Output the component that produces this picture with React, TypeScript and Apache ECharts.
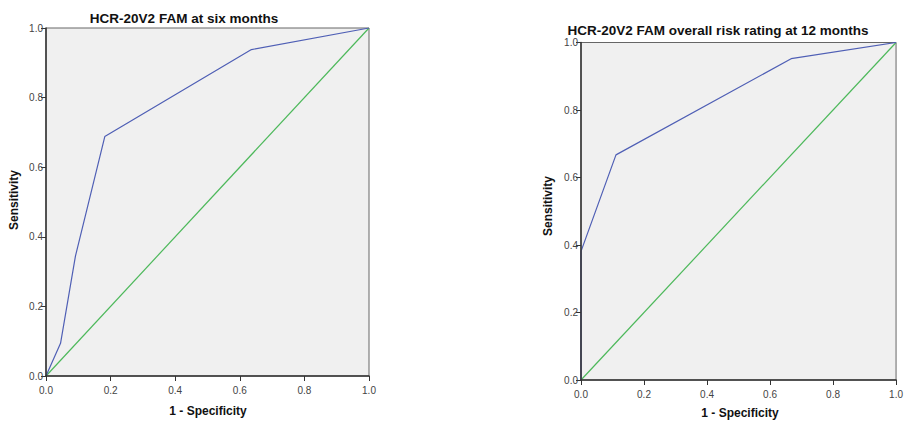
import React, { useEffect, useRef } from "react";
import * as echarts from "echarts";

const titles = ["HCR-20V2 FAM at six months", "HCR-20V2 FAM overall risk rating at 12 months"];
const xName = "1 - Specificity";
const yName = "Sensitivity";

const fpr6 = [0, 0.045, 0.091, 0.182, 0.636, 1];
const tpr6 = [0, 0.094, 0.344, 0.688, 0.938, 1];
const fpr12 = [0, 0, 0.111, 0.667, 1];
const tpr12 = [0, 0.381, 0.667, 0.952, 1];
const refX = [0, 1];
const refY = [0, 1];

const FONT = "'Liberation Sans', Arial, sans-serif";

const zip = (a: number[], b: number[]) => a.map((v, i) => [v, b[i]]);

export default function App() {
  const ref = useRef<HTMLDivElement>(null);
  useEffect(() => {
    if (!ref.current) return;
    const chart = echarts.init(ref.current, undefined, { renderer: "svg" });
    const grids = [
      { left: 46, top: 28, width: 323, height: 348 },
      { left: 581, top: 42.5, width: 318, height: 337.5 },
    ];
    const axisCommon = (type: "x" | "y") => ({
      type: "value" as const,
      min: 0,
      max: 1,
      interval: 0.2,
      z: 5,
      axisLine: { show: true, onZero: false, lineStyle: { color: "#333", width: 1.5 } },
      axisTick: { show: true, inside: false, length: 5, lineStyle: { color: "#333", width: 1 } },
      splitLine: { show: false },
      axisLabel: {
        fontSize: 10,
        lineHeight: 10,
        color: "#444",
        fontFamily: FONT,
        margin: type === "x" ? 9 : 3,
        formatter: (v: number) => v.toFixed(1),
        showMinLabel: true,
        showMaxLabel: true,
      },
    });
    chart.setOption({
      animation: false,
      backgroundColor: "#fff",
      grid: grids.map((g) => ({
        ...g,
        show: true,
        backgroundColor: "#f0f0f0",
        borderColor: "#666",
        borderWidth: 1,
      })),
      xAxis: [0, 1].map((i) => ({ ...axisCommon("x"), gridIndex: i })),
      yAxis: [0, 1].map((i) => ({ ...axisCommon("y"), gridIndex: i })),
      series: [
        {
          type: "line",
          xAxisIndex: 0,
          yAxisIndex: 0,
          data: zip(refX, refY),
          symbol: "none",
          lineStyle: { color: "#4cb85a", width: 1.2 },
        },
        {
          type: "line",
          xAxisIndex: 0,
          yAxisIndex: 0,
          data: zip(fpr6, tpr6),
          symbol: "none",
          lineStyle: { color: "#4f5fb5", width: 1.2 },
        },
        {
          type: "line",
          xAxisIndex: 1,
          yAxisIndex: 1,
          data: zip(refX, refY),
          symbol: "none",
          lineStyle: { color: "#4cb85a", width: 1.2 },
        },
        {
          type: "line",
          xAxisIndex: 1,
          yAxisIndex: 1,
          data: zip(fpr12, tpr12),
          symbol: "none",
          lineStyle: { color: "#4f5fb5", width: 1.2 },
        },
      ],
      graphic: [
        {
          type: "text",
          x: 184,
          y: 18,
          style: { text: titles[0], font: `bold 13.5px ${FONT}`, fill: "#111", align: "center", verticalAlign: "middle" },
        },
        {
          type: "text",
          x: 718,
          y: 30,
          style: { text: titles[1], font: `bold 13.5px ${FONT}`, lineHeight: 11, fill: "#111", align: "center", verticalAlign: "middle" },
        },
        {
          type: "text",
          x: 208,
          y: 411,
          style: { text: xName, font: `bold 12px ${FONT}`, fill: "#111", align: "center", verticalAlign: "middle" },
        },
        {
          type: "text",
          x: 740,
          y: 412.5,
          style: { text: xName, font: `bold 12px ${FONT}`, fill: "#111", align: "center", verticalAlign: "middle" },
        },
        {
          type: "text",
          x: 13.5,
          y: 200,
          rotation: Math.PI / 2,
          style: { text: yName, font: `bold 12px ${FONT}`, fill: "#111", align: "center", verticalAlign: "middle" },
        },
        {
          type: "text",
          x: 547.5,
          y: 206,
          rotation: Math.PI / 2,
          style: { text: yName, font: `bold 12px ${FONT}`, fill: "#111", align: "center", verticalAlign: "middle" },
        },
      ],
    });
    return () => chart.dispose();
  }, []);
  return (
    <div
      ref={ref}
      style={{ position: "fixed", left: 0, top: 0, width: 906, height: 423 }}
    />
  );
}
